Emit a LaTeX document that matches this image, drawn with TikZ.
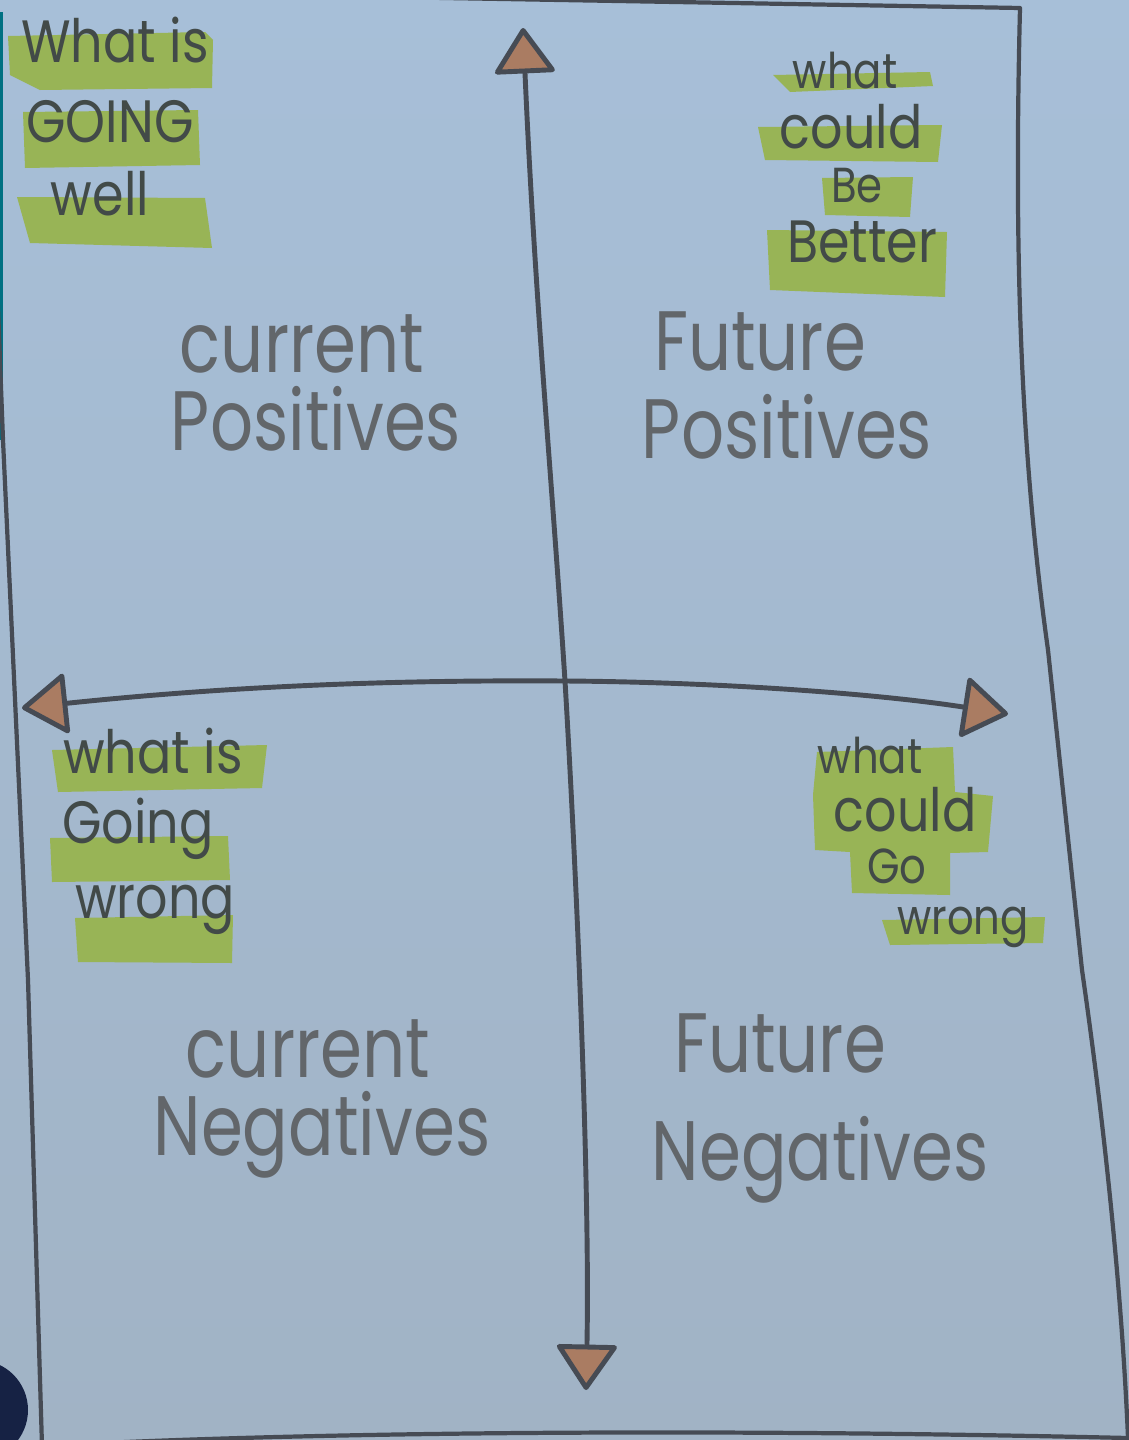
\documentclass[tikz,border=0pt]{standalone}
\usepackage{fontspec}
\newfontfamily\handfont[FakeStretch=0.8]{Poppins}
\newfontfamily\notefont[FakeStretch=0.85]{Poppins}
\usetikzlibrary{arrows.meta}

\definecolor{paper}{RGB}{167,191,216}
\definecolor{paperlow}{RGB}{161,179,197}
\definecolor{ink}{RGB}{70,75,84}
\definecolor{pencil}{RGB}{98,102,106}
\definecolor{notes}{RGB}{66,74,72}
\definecolor{hilite}{RGB}{152,180,86}
\definecolor{tipfill}{RGB}{170,124,98}
\definecolor{bezel}{RGB}{0,112,130}
\definecolor{blob}{RGB}{22,34,68}

\begin{document}
\begin{tikzpicture}[
    x=0.02cm, y=-0.02cm,
    quadrant/.style={text=pencil, font=\handfont\fontsize{48}{54}\selectfont, anchor=base, inner sep=0pt},
    note/.style={text=notes, font=\notefont\fontsize{34}{40}\selectfont, anchor=base, inner sep=0pt},
    smallnote/.style={note, font=\notefont\fontsize{28}{32}\selectfont},
    marker/.style={fill=hilite, draw=none},
    frame/.style={draw=ink, line width=2.4pt, line cap=round, line join=round},
    axis/.style={draw=ink, line width=2.8pt, line cap=round,
        >={Triangle[length=27pt, width=36pt, fill=tipfill, round]}, <->}
]

% paper
\fill[top color=paper, bottom color=paperlow] (0,0) rectangle (1129,1440);
\useasboundingbox (0,0) rectangle (1129,1440);
\clip (0,0) rectangle (1129,1440);
\fill[bezel] (0,12) rectangle (3,440);
\fill[blob] (-22,1410) circle[radius=50];

% outer frame
\draw[frame] (-14,-10) -- (1020,8)
    .. controls (1014,250) and (1020,450) .. (1048,650) -- (1082,970)
    .. controls (1095,1060) and (1120,1250) .. (1128,1438)
    .. controls (700,1428) and (300,1432) .. (42,1446)
    -- (28,980) -- (3,440) -- cycle;

% highlighter marks
\fill[marker] (8,36) -- (205,32) -- (213,40) -- (212,88) -- (40,90) -- (10,75) -- cycle;
\fill[marker] (23,112) -- (198,110) -- (200,165) -- (25,168) -- cycle;
\fill[marker] (17,197) -- (205,198) -- (212,248) -- (30,243) -- cycle;

\fill[marker] (773,75) -- (930,72) -- (933,86) -- (790,92) -- cycle;
\fill[marker] (758,127) -- (942,125) -- (938,162) -- (765,160) -- cycle;
\fill[marker] (822,178) -- (913,177) -- (910,217) -- (825,215) -- cycle;
\fill[marker] (767,230) -- (947,232) -- (945,297) -- (770,290) -- cycle;

\fill[marker] (52,750) -- (267,745) -- (262,788) -- (58,792) -- cycle;
\fill[marker] (50,838) -- (228,836) -- (230,880) -- (52,882) -- cycle;
\fill[marker] (75,918) -- (233,915) -- (232,963) -- (78,962) -- cycle;

\fill[marker] (817,752) -- (953,747) -- (955,792) -- (993,796) -- (988,852) -- (950,853)
    -- (950,895) -- (852,893) -- (850,852) -- (815,850) -- (813,795) -- cycle;
\fill[marker] (882,920) -- (1045,917) -- (1043,943) -- (890,945) -- cycle;

% axes
\coordinate (north) at (523,28);
\coordinate (south) at (586,1390);
\coordinate (west) at (22,708);
\coordinate (east) at (1008,714);
\coordinate (hub) at (565,681);

\draw[axis] (north) .. controls (535,300) and (552,480) .. (hub)
    .. controls (578,900) and (590,1200) .. (south);
\draw[axis] (west) .. controls (250,684) and (420,680) .. (hub)
    .. controls (720,682) and (880,694) .. (east);

% quadrant titles
\node[quadrant] (curpos1) at (302,372) {current};
\node[quadrant] (curpos2) at (316,450) {Positives};
\node[quadrant] (futpos1) at (760,370) {Future};
\node[quadrant] (futpos2) at (787,458) {Positives};
\node[quadrant] (curneg1) at (308,1077) {current};
\node[quadrant] (curneg2) at (322,1155) {Negatives};
\node[quadrant] (futneg1) at (780,1072) {Future};
\node[quadrant] (futneg2) at (820,1180) {Negatives};

% notes
\node[note] (well1) at (115,62) {What is};
\node[note] (well2) at (110,142) {GOING};
\node[note] (well3) at (100,215) {well};

\node[smallnote] (better1) at (845,88) {what};
\node[note] (better2) at (851,148) {could};
\node[smallnote] (better3) at (857,202) {Be};
\node[note] (better4) at (862,262) {Better};

\node[note] (wrong1) at (153,773) {what is};
\node[note] (wrong2) at (138,843) {Going};
\node[note] (wrong3) at (155,918) {wrong};

\node[smallnote] (gowrong1) at (870,773) {what};
\node[note] (gowrong2) at (905,831) {could};
\node[smallnote] (gowrong3) at (897,883) {Go};
\node[smallnote] (gowrong4) at (963,934) {wrong};

\end{tikzpicture}
\end{document}
